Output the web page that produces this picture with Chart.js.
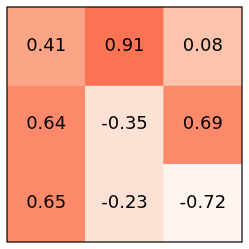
<!DOCTYPE html>
<html>
<head>
<meta charset="utf-8">
<script src="https://cdn.jsdelivr.net/npm/chart.js@4"></script>
<style>
  html, body { margin: 0; padding: 0; background: #fff; }
  #wrap { width: 249px; height: 249px; }
</style>
</head>
<body>
<div id="wrap"><canvas id="heat"></canvas></div>
<script>
// Heatmap values, row by row (top to bottom)
const columns = ["0", "1", "2"]
const row0 = [0.41, 0.91, 0.08]
const row1 = [0.64, -0.35, 0.69]
const row2 = [0.65, -0.23, -0.72]
const rows = [row0, row1, row2]

// stepped light end of "Reds", one colour per 0.3 wide bin starting at -0.75
const palette = ["#fff4ee", "#fee1d5", "#fcc4ad", "#fca486", "#fc8a6a", "#fb7353"]
const binStart = -0.75
const binWidth = 0.3

function colorFor(v) {
  let i = Math.floor((v - binStart) / binWidth)
  i = Math.max(0, Math.min(palette.length - 1, i))
  return palette[i]
}

const datasets = rows.map((vals, r) => ({
  data: vals.map(() => [r, r + 1]),
  values: vals,
  backgroundColor: vals.map(colorFor),
  borderWidth: 0,
  grouped: false,
  barPercentage: 1,
  categoryPercentage: 1,
}))

// write each value in the middle of its cell
const cellText = {
  id: "cellText",
  afterDatasetsDraw(chart) {
    const ctx = chart.ctx
    ctx.save()
    ctx.font = "18px 'DejaVu Sans'"
    ctx.fillStyle = "#000"
    ctx.textAlign = "center"
    ctx.textBaseline = "middle"
    chart.data.datasets.forEach((ds, i) => {
      chart.getDatasetMeta(i).data.forEach((bar, j) => {
        const y = (bar.y + bar.base) / 2
        ctx.fillText(ds.values[j].toFixed(2), bar.x, y)
      })
    })
    ctx.restore()
  },
}

// frame around the plot area
const frame = {
  id: "frame",
  afterDraw(chart) {
    const { left, top, right, bottom } = chart.chartArea
    const ctx = chart.ctx
    ctx.save()
    ctx.strokeStyle = "#000"
    ctx.lineWidth = 1.2
    ctx.strokeRect(left, top, right - left, bottom - top)
    ctx.restore()
  },
}

new Chart(document.getElementById("heat"), {
  type: "bar",
  data: { labels: columns, datasets: datasets },
  options: {
    responsive: true,
    maintainAspectRatio: false,
    animation: false,
    layout: { padding: { left: 7, top: 7, right: 7, bottom: 7 } },
    plugins: { legend: { display: false }, tooltip: { enabled: false } },
    scales: {
      x: { display: false, offset: true, grid: { display: false } },
      y: { display: false, min: 0, max: 3, reverse: true, grid: { display: false } },
    },
  },
  plugins: [cellText, frame],
})
</script>
</body>
</html>
